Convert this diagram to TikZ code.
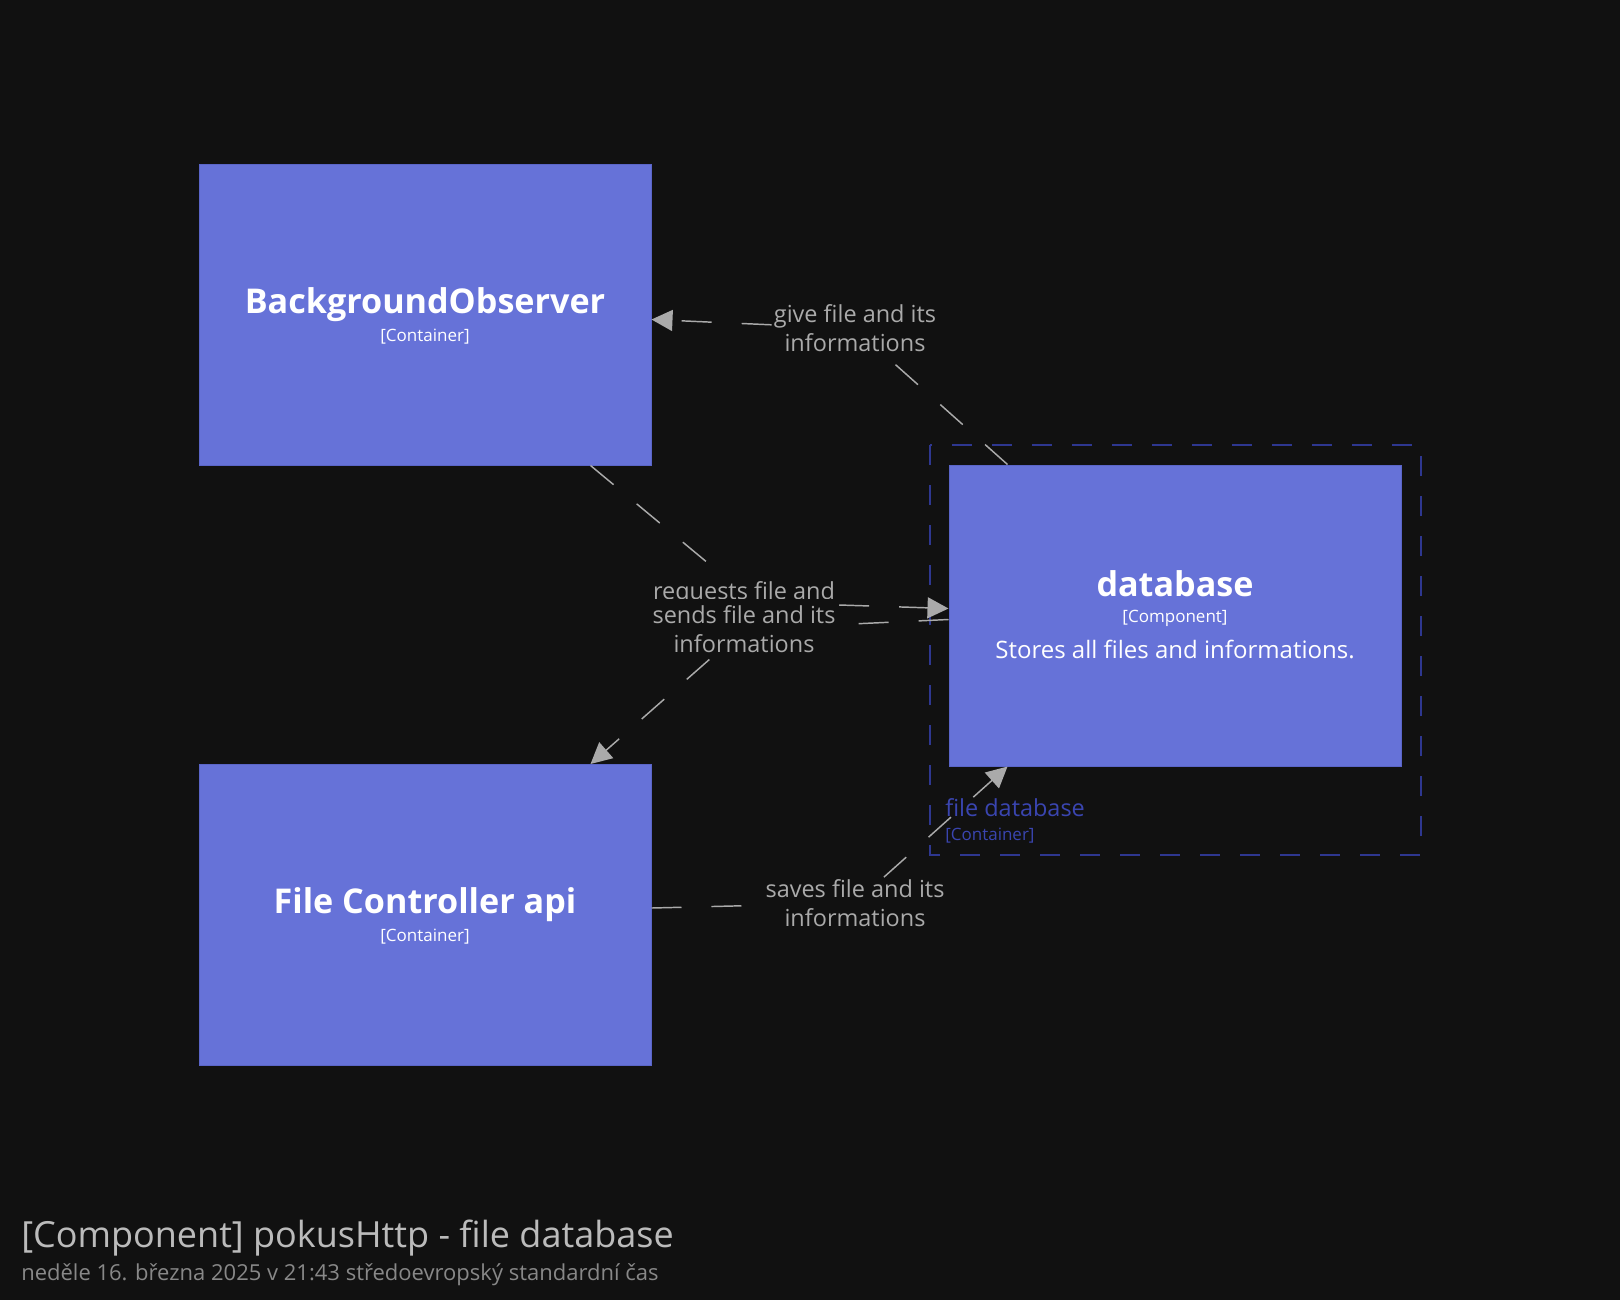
\documentclass[tikz,border=0pt]{standalone}
\usepackage{fontspec}
\setmainfont{Open Sans}
\usetikzlibrary{arrows.meta,calc}
\definecolor{bg}{HTML}{111111}
\definecolor{boxfill}{HTML}{6672D8}
\definecolor{boxline}{HTML}{5A65C8}
\definecolor{bnd}{HTML}{2E3790}
\definecolor{bndtxt}{HTML}{3A45B0}
\definecolor{edgecol}{HTML}{AAAAAA}
\definecolor{lbltxt}{HTML}{AAAAAA}
\definecolor{titletxt}{HTML}{BBBBBB}
\definecolor{subtxt}{HTML}{888888}
\tikzset{
  box/.style={draw=boxline, fill=boxfill, line width=0.75pt, minimum width=339pt, minimum height=225.75pt, inner sep=0pt},
  boxtitle/.style={text=white, font=\bfseries\fontsize{25.6pt}{30pt}\selectfont, inner sep=0pt},
  boxtech/.style={text=white, font=\fontsize{12.75pt}{15pt}\selectfont, inner sep=0pt},
  boxdesc/.style={text=white, font=\fontsize{18pt}{22pt}\selectfont, inner sep=0pt},
  elabel/.style={text=lbltxt, fill=bg, inner sep=1.5pt, align=center, font=\fontsize{17.6pt}{21.75pt}\selectfont},
  edge/.style={draw=edgecol, line width=1.1pt, dash pattern=on 22.5pt off 22.5pt, -{Triangle[length=15.75pt,width=15.75pt,fill=edgecol]}},
  boundary/.style={draw=bnd, line width=1.1pt, dash pattern=on 15pt off 15pt},
}
\begin{document}
\begin{tikzpicture}[x=0.75pt,y=-0.75pt]
\fill[bg] (0,0) rectangle (1620,1300);
\useasboundingbox (0,0) rectangle (1620,1300);

% boundary
\draw[boundary] (930,445) rectangle (1421,855);
\node[anchor=west, text=bndtxt, inner sep=0pt, font=\fontsize{17.6pt}{21pt}\selectfont] (bndname) at (945,808) {file database};
\node[anchor=west, text=bndtxt, inner sep=0pt, font=\fontsize{12.75pt}{15pt}\selectfont] (bndtech) at (945,836) {[Container]};

% boxes
\node[box] (bo) at (425,314.5) {};
\node[box] (fc) at (425,915) {};
\node[box] (db) at (1175,615.5) {};

\node[boxtitle] (botitle) at (425,305) {BackgroundObserver};
\node[boxtech] (botech) at (425,337) {[Container]};
\node[boxtitle] (fctitle) at (425,905) {File Controller api};
\node[boxtech] (fctech) at (425,937) {[Container]};
\node[boxtitle] (dbtitle) at (1175,584) {database};
\node[boxtech] (dbtech) at (1175,618) {[Component]};
\node[boxdesc] (dbdesc) at (1175,649) {Stores all files and informations.};

% edge labels
\node[elabel] (l1) at (855,328.5) {give file and its\\informations};
\node[elabel] (l2) at (744,593) {requests file and};
\node[elabel, inner ysep=5pt] (l3) at (744,629) {sends file and its\\informations};
\node[elabel] (l4) at (855,903) {saves file and its\\informations};

% edges
\draw[edge] ($(db.north west)+(59,0)$) -- (l1) -- ($(bo.north east)+(0,156)$);
\draw[edge] ($(bo.south west)+(392,0)$) -- (l2) ($(l2.east)+(2,12)$) -- ($(db.north west)+(0,144)$);
\draw[edge] ($(db.north west)+(0,155)$) -- (l3) -- ($(fc.north west)+(392,0)$);
\draw[edge] ($(fc.north east)+(0,144)$) -- (l4) -- ($(db.south west)+(59,0)$);

% title
\node[anchor=west, text=titletxt, inner sep=0pt, font=\fontsize{27pt}{32pt}\selectfont] (title) at (21,1238) {[Component] pokusHttp - file database};
\node[anchor=west, text=subtxt, inner sep=0pt, font=\fontsize{16.5pt}{20pt}\selectfont] (subtitle) at (21,1275) {neděle 16. března 2025 v 21:43 středoevropský standardní čas};
\end{tikzpicture}
\end{document}
